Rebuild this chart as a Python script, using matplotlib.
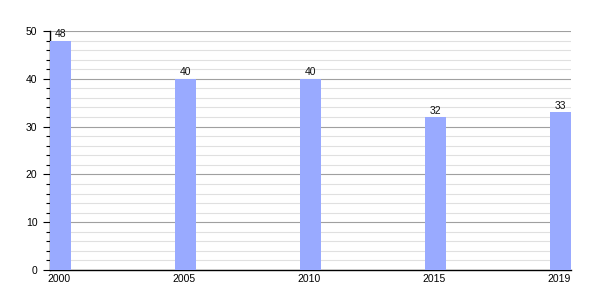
import matplotlib.pyplot as plt
from matplotlib.ticker import MultipleLocator

plt.rcParams['font.family'] = ['Liberation Sans', 'DejaVu Sans']

# Data
years = ['2000', '2005', '2010', '2015', '2019']
values = [48, 40, 40, 32, 33]

BAR_W = 0.168

fig = plt.figure(figsize=(6, 3), dpi=100)
ax = fig.add_axes([50 / 600, 30 / 300, 521 / 600, 239 / 300])

pos = list(range(len(years)))
bars = ax.bar(pos, values, width=BAR_W, align='edge', color='#99aaff', zorder=3)

for b, v in zip(bars, values):
    ax.text(b.get_x() + b.get_width() / 2, v + 0.3, str(v), ha='center', va='bottom',
            fontsize=7.5, color='#111111', zorder=4)

ax.set_xlim(0, len(years) - 1 + BAR_W)
ax.set_ylim(0, 50)
ax.set_xticks([p + BAR_W / 2 - 0.015 for p in pos])
ax.set_xticklabels(years)
ax.tick_params(axis='x', length=0, labelsize=7.5, pad=3)

ax.yaxis.set_major_locator(MultipleLocator(10))
ax.yaxis.set_minor_locator(MultipleLocator(2))
ax.tick_params(axis='y', which='major', length=5, width=0.8, labelsize=7.5, pad=4)
ax.tick_params(axis='y', which='minor', length=3, width=0.8)

ax.grid(axis='y', which='major', color='#a0a0a0', linewidth=0.8, zorder=1)
ax.grid(axis='y', which='minor', color='#e0e0e0', linewidth=0.8, zorder=0)
ax.set_axisbelow(True)

for s in ['top', 'right']:
    ax.spines[s].set_visible(False)
ax.spines['left'].set_linewidth(1.0)
ax.spines['bottom'].set_linewidth(1.0)

fig.savefig('out.png', dpi=100)
